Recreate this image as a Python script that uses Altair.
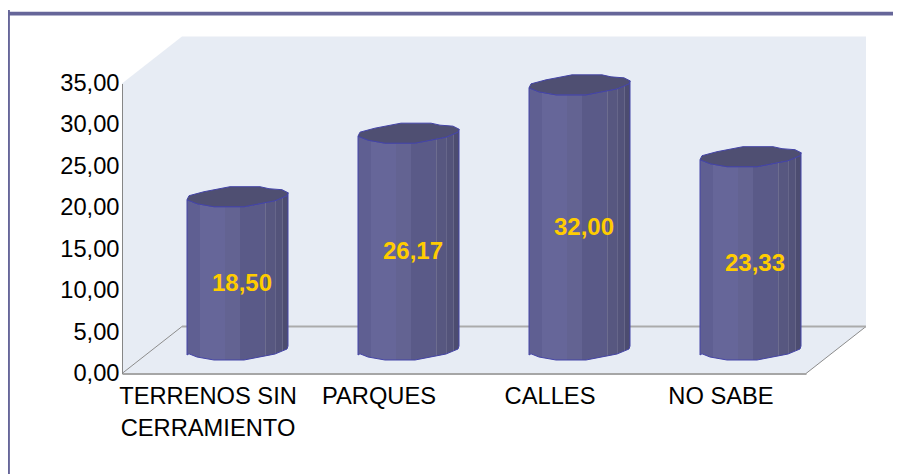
import altair as alt
import numpy as np
import pandas as pd

categories = ["TERRENOS SIN|CERRAMIENTO", "PARQUES", "CALLES", "NO SABE"]
values = [18.50, 26.17, 32.00, 23.33]
y_ticks = [0, 5, 10, 15, 20, 25, 30, 35]

# plot geometry (px) of the front axis box
W, H = 684, 290
PX = 4 / W            # category units per px
PY = 35 / H           # value units per px
DX, DY = 60 * PX, 47 * PY          # depth of the 3D box
LIFT = 23.5 * PY                   # cylinder base sits mid-depth
CAP_LIFT = 22.5 * PY
SHIFT = 30 * PX

FONT = "Liberation Sans"
WALL = "#E7ECF4"
BODY_EDGE = "#4444A6"
TOP_FILL = "#4F4F72"

# ---- axes -----------------------------------------------------------------
cat_js = "[" + ",".join(f"'{c}'" for c in categories) + "]"
x_axis = alt.Axis(
    values=[i + 0.5 for i in range(4)],
    labelExpr=f"split({cat_js}[floor(datum.value)], '|')",
    labelFont=FONT, labelFontSize=23.7, labelColor="#000000", labelLineHeight=32,
    labelPadding=11, labelOverlap=False, labelBound=False, labelFlush=False, labelAngle=0,
    domainColor="#A6A6A6", domainWidth=2, ticks=False, grid=False, zindex=1, title=None,
)
y_axis = alt.Axis(
    values=y_ticks,
    labelExpr="replace(format(datum.value, '.2f'), '.', ',')",
    labelFont=FONT, labelFontSize=23.7, labelColor="#000000",
    labelPadding=3, labelOverlap=False, labelBound=False, labelFlush=False,
    domainColor="#868686", domainWidth=1, ticks=False, grid=False, zindex=1, title=None,
)

x_scale = alt.Scale(domain=[0, 4], nice=False, zero=False)
y_scale = alt.Scale(domain=[0, 35], nice=False, zero=False)
X = alt.X("x:Q", scale=x_scale, axis=x_axis)
Y = alt.Y("y:Q", scale=y_scale, axis=y_axis)
Y2 = alt.Y2("y2:Q")
X2 = alt.X2("x2:Q")

# ---- frame, walls ---------------------------------------------------------
fl, fr = -114 * PX, 771 * PX
ft, fb = 359.8 * PY, -110 * PY
frame = alt.Chart(pd.DataFrame({"x": [fl, fl], "x2": [fr, fl], "y": [ft, fb], "y2": [ft, ft + 1.7 * PY]})).mark_rule(
    color="#666699", strokeWidth=3.8, strokeCap="square"
).encode(X, X2, Y, Y2)

back = alt.Chart(pd.DataFrame({"x": [DX, 4 + DX], "y": [DY, DY], "y2": [35 + DY, 35 + DY]})).mark_area(
    color=WALL, orient="vertical").encode(X, Y, Y2)
side = alt.Chart(pd.DataFrame({"x": [0, DX], "y": [0, DY], "y2": [35, 35 + DY]})).mark_area(
    color=WALL, orient="vertical").encode(X, Y, Y2)
floor = alt.Chart(pd.DataFrame({"x": [0, DX, 4, 4 + DX], "y": [0, 0, 0, DY], "y2": [0, DY, DY, DY]})).mark_area(
    color=WALL, orient="vertical").encode(X, Y, Y2)

diag = alt.Chart(pd.DataFrame({"x": [0, 4], "x2": [DX, 4 + DX], "y": [0, 0], "y2": [DY, DY]})).mark_rule(
    color="#8C8C8C", strokeWidth=1).encode(X, X2, Y, Y2)
back_line = alt.Chart(pd.DataFrame({"x": [DX], "x2": [4 + DX], "y": [DY], "y2": [DY]})).mark_rule(
    color="#ABABAB", strokeWidth=2).encode(X, X2, Y, Y2)

# ---- cylinders ------------------------------------------------------------
# outline of the faceted cap, px offsets from the cap centre (+y is down)
upper_dx = [-50.5, -48.5, -33.5, -7.5, 22.5, 31.5, 44.5, 50.5]
upper_dy = [2, -2, -6, -11, -11, -9, -8, -5]
lower_dx = [-50.5, -40.5, -23.5, -7.5, 6.5, 37.5, 49.5, 50.5]
lower_dy = [2, 6, 9, 9, 9, 3, -2, -5]
samples = sorted(set(upper_dx + lower_dx))
up = np.interp(samples, upper_dx, upper_dy)
lo = np.interp(samples, lower_dx, lower_dy)

body_rows, cap_rows = [], []
for i, v in enumerate(values):
    cx = i + 0.5 + SHIFT
    for s, u, l in zip(samples, up, lo):
        x = cx + s * PX
        top = v + CAP_LIFT - l * PY
        body_rows.append({"c": i, "x": x, "y": top, "y2": LIFT - (l + 1) * PY if s > -50.5 else LIFT - 5 * PY})
        cap_rows.append({"c": i, "x": x, "y": v + CAP_LIFT - u * PY, "y2": top})

def stops(spec):
    out = []
    for a, b, col in spec:
        out.append(alt.GradientStop(offset=a / 101, color=col))
        out.append(alt.GradientStop(offset=b / 101, color=col))
    return out

gradient = alt.LinearGradient(
    gradient="linear", x1=0, x2=1, y1=0, y2=0,
    stops=stops([
        (0, 13, "#5F5F92"), (13, 38, "#666699"), (38, 53, "#636392"), (53, 78, "#5A5A88"),
        (78, 79, "#6D6D8F"), (79, 88, "#575780"), (88, 89, "#66668A"), (89, 95, "#53537A"),
        (95, 96, "#666688"), (96, 101, "#4C4C70"),
    ]),
)
body = alt.Chart(pd.DataFrame(body_rows)).mark_area(
    fill=gradient, stroke=BODY_EDGE, strokeWidth=1, orient="vertical"
).encode(X, Y, Y2, detail="c:N")
cap = alt.Chart(pd.DataFrame(cap_rows)).mark_area(
    fill=TOP_FILL, stroke=BODY_EDGE, strokeWidth=1, orient="vertical"
).encode(X, Y, Y2, detail="c:N")

# ---- value labels ---------------------------------------------------------
label_df = pd.DataFrame({
    "x": [i + 0.5 + SHIFT + 4.5 * PX for i in range(4)],
    "y": [v / 2 + 13 * PY for v in values],
    "t": [f"{v:.2f}".replace(".", ",") for v in values],
})
labels = alt.Chart(label_df).mark_text(
    font=FONT, fontSize=24, fontWeight="bold", color="#FFCC00", align="center", baseline="middle"
).encode(X, Y, text="t:N")

chart = alt.layer(frame, back, side, floor, diag, back_line, body, cap, labels).properties(
    width=W, height=H,
    padding={"left": 114, "top": 75.5, "right": 87, "bottom": 100.5},
    autosize=alt.AutoSizeParams(type="none"),
    background="white",
).configure_view(stroke=None)

chart.save("out.html", embed_options={"renderer": "svg", "actions": False})
